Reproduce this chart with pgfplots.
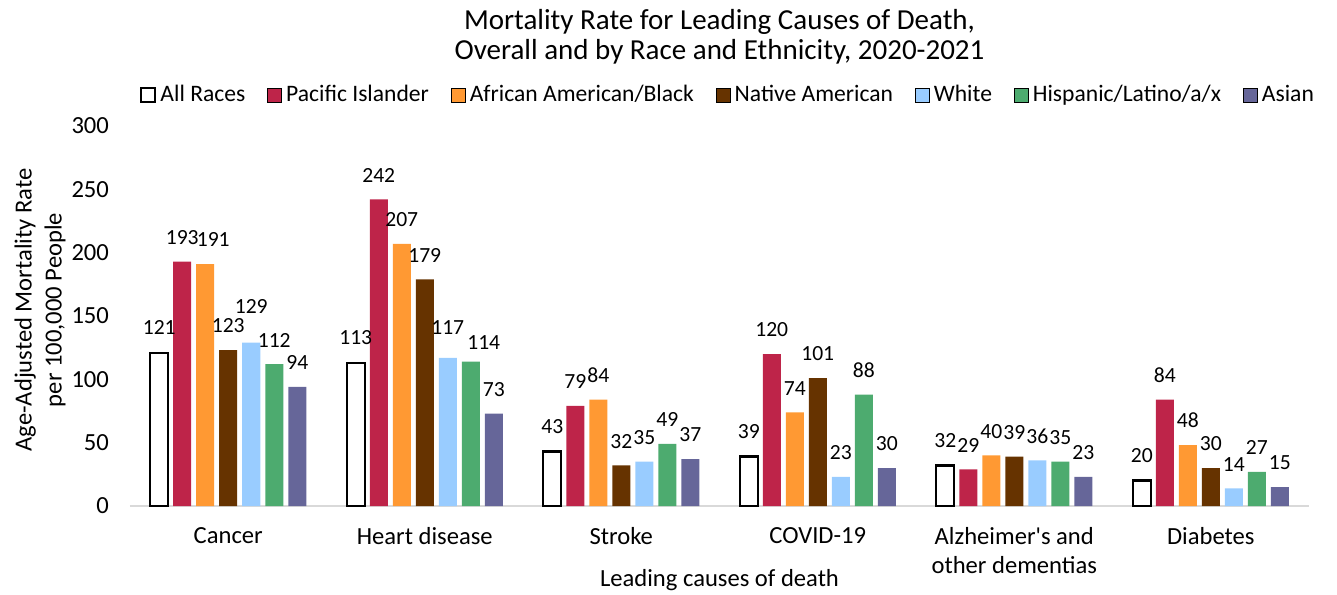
\documentclass[border=0pt]{standalone}
\usepackage{pgfplots}
\pgfplotsset{compat=1.18}
\usepackage{pgfplotstable}
\usepackage{fontspec}
\setmainfont{Carlito}

\definecolor{pacific}{HTML}{BE2449}
\definecolor{black2}{HTML}{FF9933}
\definecolor{native}{HTML}{663300}
\definecolor{white2}{HTML}{99CCFF}
\definecolor{hispanic}{HTML}{4DAB6F}
\definecolor{asian}{HTML}{666699}
\definecolor{axisgray}{HTML}{D9D9D9}

% rates per 100,000, categories at 0..5
% dx*/dy* = small nudges of the value labels (pt), as in the original
\pgfplotstableread{
x all pac afr nat whi his asi dxafr dywhi dxhis dyhis
0 121 193 191 123 129 112 94 4 6 0 0
1 113 242 207 179 117 114 73 0 3 6.5 -2.5
2 43 79 84 32 35 49 37 0 0 0 0
3 39 120 74 101 23 88 30 0 0 0 0
4 32 29 40 39 36 35 23 0 0 0 0
5 20 84 48 30 14 27 15 0 0 0 0
}\mortality

\begin{document}
\begin{tikzpicture}
\useasboundingbox (-65pt,-44pt) rectangle (603.5pt,253pt);
\begin{axis}[
    at={(0,0)}, anchor=south west,
    scale only axis,
    width=589.5pt, height=190pt,
    ybar=2.5pt, bar width=9pt,
    ymin=0, ymax=300,
    ytick={0,50,...,300},
    xmin=-0.5, xmax=5.5,
    xtick={0,...,5},
    xticklabels={Cancer, Heart disease, Stroke, COVID-19, {Alzheimer\textquotesingle s and\\other dementias}, Diabetes},
    axis lines*=left,
    x axis line style={draw=axisgray, line width=0.8pt},
    y axis line style={draw=none},
    major tick length=0pt,
    clip=false,
    font=\fontsize{12.3}{14.5}\selectfont,
    /pgf/number format/assume math mode=true,
    yticklabel style={xshift=-7pt},
    xticklabel style={align=center, yshift=-7pt},
    title={Mortality Rate for Leading Causes of Death,\\Overall and by Race and Ethnicity, 2020-2021},
    title style={at={(0.5,1)}, anchor=center, yshift=38.5pt, align=center, font=\fontsize{14.5}{15}\selectfont},
    xlabel={Leading causes of death},
    every axis x label/.style={at={(rel axis cs:0.5,0)}, yshift=-37pt, anchor=center},
    ylabel={Age-Adjusted Mortality Rate\\per 100,000 People},
    every axis y label/.style={at={(rel axis cs:0,0.5)}, xshift=-45pt, yshift=3pt, rotate=90, anchor=center, align=center, font=\fontsize{12.3}{15}\selectfont},
    nodes near coords,
    nodes near coords style={font=\fontsize{10.8}{12}\selectfont, black, yshift=5pt},
    legend columns=7,
    legend style={at={(0.5,1)}, anchor=center, yshift=15.5pt, xshift=4.75pt, draw=none, fill=none,
        font=\fontsize{11.8}{13}\selectfont,
        /tikz/every even column/.append style={column sep=9pt}},
    legend image code/.code={\draw[#1] (0pt,-3.5pt) rectangle (7pt,3.5pt);},
]
    \addplot[draw=black, line width=1.2pt, fill=white] table[x=x, y=all] {\mortality};
    \addplot[draw=none, fill=pacific] table[x=x, y=pac] {\mortality};
    \addplot[draw=none, fill=black2,
        visualization depends on={\thisrow{dxafr} \as \ldx},
        every node near coord/.append style={xshift=\ldx pt}] table[x=x, y=afr] {\mortality};
    \addplot[draw=none, fill=native] table[x=x, y=nat] {\mortality};
    \addplot[draw=none, fill=white2,
        visualization depends on={\thisrow{dywhi} \as \ldy},
        every node near coord/.append style={yshift=\ldy pt}] table[x=x, y=whi] {\mortality};
    \addplot[draw=none, fill=hispanic,
        visualization depends on={\thisrow{dxhis} \as \ldx},
        visualization depends on={\thisrow{dyhis} \as \ldy},
        every node near coord/.append style={xshift=\ldx pt, yshift=\ldy pt}] table[x=x, y=his] {\mortality};
    \addplot[draw=none, fill=asian] table[x=x, y=asi] {\mortality};
    \legend{All Races, Pacific Islander, African American/Black, Native American, White, Hispanic/Latino/a/x, Asian}
\end{axis}
\end{tikzpicture}
\end{document}
